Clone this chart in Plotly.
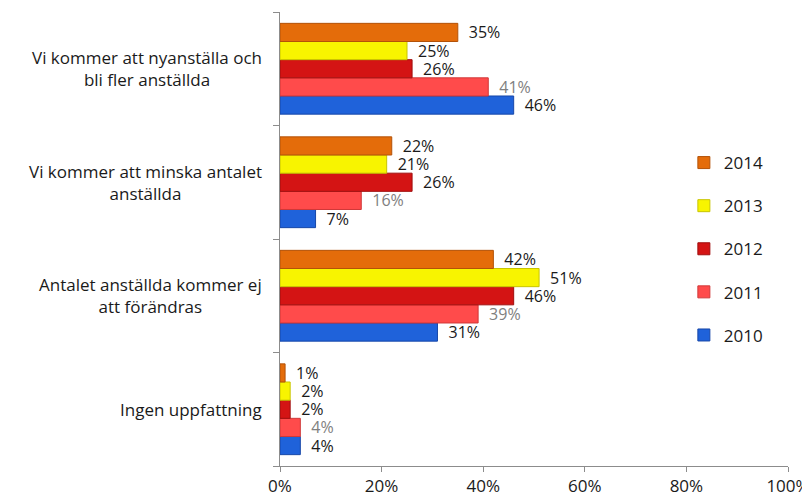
import plotly.graph_objects as go

categories = [
    "Vi kommer att nyanställa och<br>bli fler anställda",
    "Vi kommer att minska antalet<br>anställda",
    "Antalet anställda kommer ej<br>att förändras",
    "Ingen uppfattning",
]
cat_keys = ["A", "B", "C", "D"]
years = ["2010", "2011", "2012", "2013", "2014"]
values = {
    "2014": [35, 22, 42, 1],
    "2013": [25, 21, 51, 2],
    "2012": [26, 26, 46, 2],
    "2011": [41, 16, 39, 4],
    "2010": [46, 7, 31, 4],
}
colors = {
    "2014": "#E46C0A",
    "2013": "#F8F400",
    "2012": "#D41414",
    "2011": "#FF4B4B",
    "2010": "#1F62DA",
}
edge = {
    "2014": "#B35208",
    "2013": "#C8C400",
    "2012": "#A00E0E",
    "2011": "#D03838",
    "2010": "#1747A8",
}
label_colors = {"2014": "#1a1a1a", "2013": "#1a1a1a", "2012": "#1a1a1a",
                "2011": "#808080", "2010": "#1a1a1a"}

FONT = "Open Sans"
FS = 17
fig = go.Figure()
for i, yr in enumerate(years):
    fig.add_trace(go.Bar(
        y=cat_keys[::-1],
        x=[v / 100 for v in values[yr][::-1]],
        orientation="h",
        name=yr,
        legendgroup=yr,
        legendrank=len(years) - i,
        marker=dict(color=colors[yr], line=dict(color=edge[yr], width=1)),
        text=[f"\u2002{v}%" for v in values[yr][::-1]],
        textposition="outside",
        constraintext="none",
        cliponaxis=False,
        textfont=dict(family=FONT, size=16, color=label_colors[yr]),
    ))

annotations = []
for key, lab in zip(cat_keys, categories):
    annotations.append(dict(
        x=-0.031, xref="paper", xanchor="right",
        y=key, yref="y", yanchor="middle",
        text=lab, align="center", showarrow=False,
        font=dict(family=FONT, size=FS, color="#1a1a1a"),
    ))

fig.update_layout(
    width=802, height=490,
    margin=dict(l=272, r=22, t=4, b=32),
    paper_bgcolor="white", plot_bgcolor="white",
    barmode="group", bargap=0.2, bargroupgap=0,
    showlegend=True,
    legend=dict(
        x=0.795, xanchor="left", y=0.707, yanchor="top",
        traceorder="grouped", tracegroupgap=18, itemwidth=30,
        font=dict(family=FONT, size=FS, color="#1a1a1a"),
        bgcolor="rgba(0,0,0,0)",
    ),
    xaxis=dict(
        range=[0, 1], tickformat=".0%", dtick=0.2,
        showgrid=False, zeroline=False, automargin=False,
        showline=True, linecolor="#8c8c8c", linewidth=1,
        ticks="outside", ticklen=5, tickcolor="#8c8c8c",
        tickfont=dict(family=FONT, size=FS, color="#1a1a1a"),
    ),
    yaxis=dict(
        categoryorder="array", categoryarray=cat_keys[::-1],
        showticklabels=False, showgrid=False, automargin=False,
        showline=True, linecolor="#8c8c8c", linewidth=1,
        ticks="outside", ticklen=6, tickcolor="#8c8c8c",
        tickson="boundaries",
    ),
    annotations=annotations,
)

fig.write_html("out.html")
